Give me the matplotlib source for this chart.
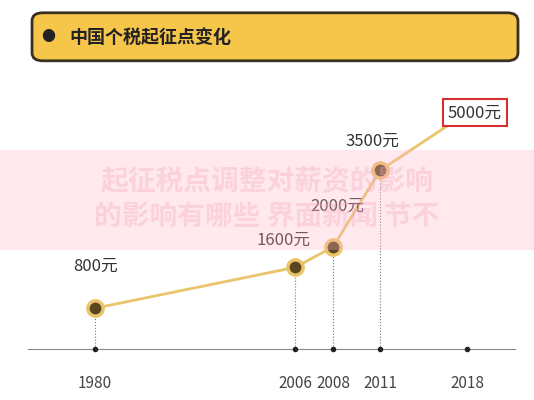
import matplotlib.pyplot as plt
from matplotlib.patches import FancyBboxPatch, Rectangle

plt.rcParams['font.family'] = ['Noto Sans CJK SC', 'DejaVu Sans']

years = ['1980', '2006', '2008', '2011', '2018']
x_pos = [0, 5.19, 6.18, 7.40, 9.66]   # uneven spacing as in the original
values = [800, 1600, 2000, 3500, 5000]
labels = ['800元', '1600元', '2000元', '3500元', '5000元']
title = '中国个税起征点变化'

fig = plt.figure(figsize=(5.34, 4), dpi=100)
ax = fig.add_axes([0, 0, 1, 1])
ax.set_xlim(-2.47, 11.4)
ax.set_ylim(-1000, 6843)
ax.axis('off')

# the source squashes the top: last point sits lower than a linear scale gives
shift = -370
line_y = values[:4] + [values[4] + shift]

gold = '#e9c46a'
ax.plot([-1.73, 10.9], [0, 0], color='#888888', lw=0.8)
ax.plot(x_pos, line_y, color=gold, lw=2, zorder=2)
for x, v in zip(x_pos[:4], values[:4]):
    ax.plot([x, x], [0, v], ls=':', color='#777777', lw=0.8)
ax.plot(x_pos, [0] * len(x_pos), 'o', color='#222222', ms=3)
for x, yr in zip(x_pos, years):
    ax.text(x, -667, yr, ha='center', va='center', fontsize=11, color='#444444')
ax.plot(x_pos[:4], values[:4], 'o', ms=11, color='#5a4520', mec=gold, mew=2.5, zorder=3)

offs = [(0, 820), (-0.3, 540), (0.1, 790), (-0.2, 570), (0.2, shift)]
for x, v, lab, (dx, dy) in zip(x_pos, values, labels, offs):
    if lab == labels[-1]:
        ax.text(x + dx, v + dy, lab, ha='center', va='center', fontsize=12, color='#333333', zorder=4,
                bbox=dict(boxstyle='square,pad=0.3', fc='white', ec='#d43030', lw=1.5))
    else:
        ax.text(x + dx, v + dy, lab, ha='center', va='center', fontsize=12, color='#333333', zorder=4)

# title banner
fig.patches.append(FancyBboxPatch((0.06, 0.848), 0.91, 0.12, boxstyle='round,pad=0,rounding_size=0.02',
                                  transform=fig.transFigure, fc='#f6c64a', ec='#3a3020', lw=2))
fig.text(0.09, 0.907, '●', fontsize=10, color='#222222', ha='center', va='center')
fig.text(0.13, 0.907, title, fontsize=13, fontweight='bold', color='#222222', va='center')

# watermark band
fig.patches.append(Rectangle((0, 0.375), 1, 0.25, transform=fig.transFigure,
                             fc='#ffb6c8', alpha=0.3, ec='none'))
fig.text(0.5, 0.545, '起征税点调整对薪资的影响', fontsize=20, fontweight='bold',
         color='#f3a3b5', alpha=0.35, ha='center', va='center', zorder=0)
fig.text(0.5, 0.455, '的影响有哪些 界面新闻 节不', fontsize=20, fontweight='bold',
         color='#f3a3b5', alpha=0.35, ha='center', va='center', zorder=0)

fig.savefig('out.png', dpi=100)
